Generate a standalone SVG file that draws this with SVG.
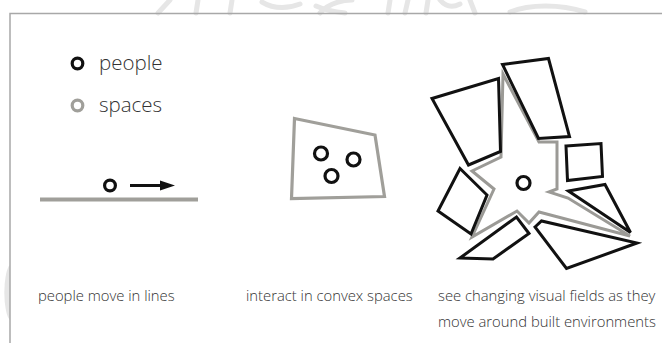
<svg xmlns="http://www.w3.org/2000/svg" width="662" height="343" viewBox="0 0 662 343">
<defs>
<style>
.frame{stroke:#a8a8a8;stroke-width:1.5;fill:none}
.wm{fill:none;stroke:#e6e6e6;stroke-width:5;stroke-linecap:round}
.person{fill:none;stroke:#111;stroke-width:3.2}
.space{fill:none;stroke:#a09f9a;stroke-width:3.2}
.bld{fill:#fff;stroke:#111;stroke-width:3;stroke-linejoin:miter}
.star{fill:#fff;stroke:#9b9a96;stroke-width:3;stroke-linejoin:miter}
.lbl{font-family:"Open Sans","Noto Sans",sans-serif;font-weight:300;fill:#333}
.legend{font-size:20.5px}
.cap{font-size:14.8px}
</style>
</defs>
<rect x="0" y="0" width="662" height="343" fill="#fff"/>
<g id="watermark">
<path class="wm" d="M170,0 L158,13 M198,0 L196,13 M232,0 L230,13 M262,2 C275,10 290,8 300,4 M316,6 C325,10 335,12 345,13 M320,13 C330,2 345,0 352,0 M390,0 L388,13 M408,0 L405,13 M428,0 L426,13 M440,0 C445,6 452,8 460,4 M470,0 L475,13 M510,12 C530,4 560,4 585,12"/>
<path d="M10,265 A7,28 0 0 0 10,320 Z" fill="#e6e6e6"/>
</g>
<g id="frame">
<path class="frame" d="M10,343 L10,13.5 L662,13.5"/>
</g>
<g id="legend-people">
<circle class="person" cx="77.5" cy="63.5" r="5.3"/>
<text class="lbl legend" x="99" y="69.5">people</text>
</g>
<g id="legend-spaces">
<circle class="space" cx="77.5" cy="105.5" r="5.3"/>
<text class="lbl legend" x="99" y="112">spaces</text>
</g>
<g id="panel-lines">
<line x1="40" y1="199.5" x2="198" y2="199.5" stroke="#a09f9a" stroke-width="4"/>
<circle class="person" cx="110" cy="185.5" r="5.4"/>
<line x1="130" y1="185.5" x2="162" y2="185.5" stroke="#111" stroke-width="3"/>
<path d="M160,180.5 L175,185.5 L160,190.5 Z" fill="#111"/>
<text class="lbl cap" x="38" y="300.5">people move in lines</text>
</g>
<g id="panel-convex">
<path class="space" d="M294.5,118.5 L375,135 L384.5,196.5 L291.5,198.5 Z"/>
<circle class="person" cx="321" cy="153.5" r="6.5"/>
<circle class="person" cx="353.5" cy="159.5" r="6.5"/>
<circle class="person" cx="331.5" cy="176" r="6.5"/>
<text class="lbl cap" x="246" y="300.5">interact in convex spaces</text>
</g>
<g id="panel-visual">
<path class="star" d="M503,74 L539,142 L557,142 L557,189 L549,192 L568,198 L630,236 L539,212 L529,223 L517,211 L472,237 L494,189 L472,171 L501,157 Z"/>
<path class="bld" d="M432,98.5 L498.5,78.5 L500.5,151.5 L468.5,165 Z"/>
<path class="bld" d="M502.5,64.5 L548.5,58.5 L569.5,136.5 L538.5,138.5 Z"/>
<path class="bld" d="M566,146 L601,143.5 L602.5,176.5 L567.5,180.5 Z"/>
<path class="bld" d="M568.5,191 L605,184.5 L630.5,232.5 Z"/>
<path class="bld" d="M535,227 L541.5,221 L637,243 L566.5,268.5 Z"/>
<path class="bld" d="M460,258 L493,259 L529,233.5 L516.5,217 Z"/>
<path class="bld" d="M460,168.5 L487,195 L471,234 L438,211 Z"/>
<circle class="person" cx="523.5" cy="183" r="6.5"/>
<text class="lbl cap" x="438" y="300.5">see changing visual fields as they</text>
<text class="lbl cap" x="438" y="326.5">move around built environments</text>
</g>
</svg>
